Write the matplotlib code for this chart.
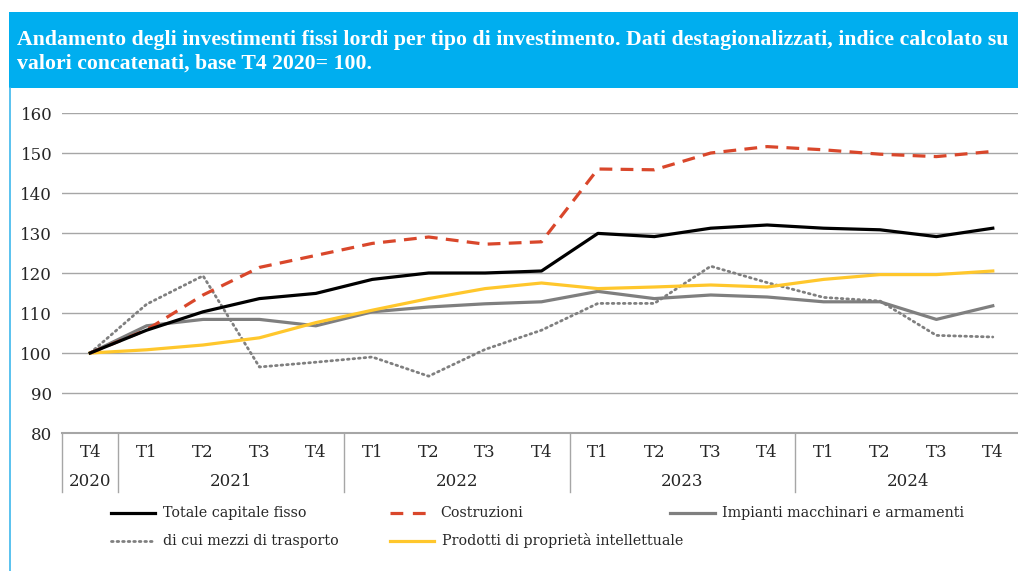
import numpy as np
import matplotlib.pyplot as plt
from matplotlib.lines import Line2D

# Trimestri e anni
trimestri = ['T4', 'T1', 'T2', 'T3', 'T4', 'T1', 'T2', 'T3', 'T4',
             'T1', 'T2', 'T3', 'T4', 'T1', 'T2', 'T3', 'T4']
anni = ['2020', '2021', '2022', '2023', '2024']
anni_n = [1, 4, 4, 4, 4]

# Serie (indice, base T4 2020 = 100)
totale = [100, 105.7, 110.3, 113.6, 114.9, 118.4, 120.0, 120.0, 120.5,
          129.9, 129.1, 131.2, 132.0, 131.2, 130.8, 129.1, 131.2]
costruzioni = [100, 105.8, 114.5, 121.4, 124.4, 127.4, 129.0, 127.2, 127.8,
               146.0, 145.8, 150.0, 151.6, 150.8, 149.7, 149.1, 150.4]
impianti = [100, 106.8, 108.4, 108.4, 106.8, 110.3, 111.5, 112.3, 112.8,
            115.4, 113.6, 114.5, 114.0, 112.8, 112.8, 108.4, 111.8]
mezzi = [100, 112.2, 119.3, 96.5, 97.7, 99.0, 94.2, 100.9, 105.7,
         112.4, 112.4, 121.7, 117.6, 113.9, 113.0, 104.4, 104.0]
prodotti = [100, 100.8, 102.0, 103.8, 107.6, 110.7, 113.6, 116.1, 117.5,
            116.1, 116.5, 117.0, 116.5, 118.4, 119.6, 119.6, 120.5]

plt.rcParams['font.family'] = ['DejaVu Serif']

W, H = 1018, 571
fig = plt.figure(figsize=(W / 100, H / 100), dpi=100)

def fx(px):
    return px / W

def fy(py):
    return 1 - py / H

# Banda del titolo
band = fig.add_axes([fx(9), fy(88), 1 - fx(9), (88 - 12) / H])
band.set_facecolor('#00AEEF')
band.set_xticks([])
band.set_yticks([])
for s in band.spines.values():
    s.set_visible(False)
titolo = ['Andamento degli investimenti fissi lordi per tipo di investimento. '
          'Dati destagionalizzati, indice calcolato su',
          'valori concatenati, base T4 2020= 100.']
for riga, yb in zip(titolo, [45, 69]):
    fig.text(fx(17), fy(yb), riga, color='white', fontsize=15.7, fontweight='bold',
             va='baseline', family='Liberation Serif')

# Bordo sinistro
fig.add_artist(Line2D([fx(9.5), fx(9.5)], [0, fy(88)], color='#3DB8EC', lw=1.2))

# Grafico
x0, x1 = 62, 1021
ax = fig.add_axes([fx(x0), fy(433), (x1 - x0) / W, (433 - 113) / H])
x = np.arange(len(trimestri))
stili = [
    (totale, 'Totale capitale fisso', dict(color='black', lw=2.3, zorder=5)),
    (costruzioni, 'Costruzioni', dict(color='#D9472B', lw=2.3, ls=(0, (4, 2.6)), zorder=4)),
    (impianti, 'Impianti macchinari e armamenti', dict(color='#7F7F7F', lw=2.3, zorder=3)),
    (mezzi, 'di cui mezzi di trasporto',
     dict(color='#7F7F7F', lw=2.0, ls=(0, (0.6, 1.4)), dash_capstyle='round', zorder=2)),
    (prodotti, 'Prodotti di proprietà intellettuale', dict(color='#FFC72C', lw=2.3, zorder=3)),
]
for serie, nome, st in stili:
    ax.plot(x, serie, **st)

ax.set_xlim(-0.5, len(x) - 0.5)
ax.set_ylim(80, 160)
ax.set_yticks(range(80, 161, 10))
ax.grid(axis='y', color='#A6A6A6', lw=1)
ax.set_axisbelow(True)
for s in ['top', 'right', 'left']:
    ax.spines[s].set_visible(False)
ax.spines['bottom'].set_color('#A6A6A6')
ax.spines['bottom'].set_linewidth(1.5)
ax.tick_params(axis='y', length=0, labelsize=12, pad=7, colors='#262626')
ax.set_xticks([])

# Etichette asse categorie su due livelli
tr = ax.get_xaxis_transform()
for i, t in enumerate(trimestri):
    ax.text(i, -0.06, t, transform=tr, ha='center', va='center', fontsize=12, color='#262626')
bordi = np.concatenate([[0], np.cumsum(anni_n)]) - 0.5
for k, a in enumerate(anni):
    ax.text((bordi[k] + bordi[k + 1]) / 2, -0.15, a, transform=tr, ha='center', va='center',
            fontsize=12, color='#262626')
for b in bordi[:-1]:
    ax.plot([b, b], [0, -0.185], transform=tr, color='#A6A6A6', lw=1, clip_on=False)

# Legenda disposta a mano
pos_leg = [(111, 155, 163, 513), (390, 428, 440, 513), (670, 715, 722, 513),
           (111, 155, 163, 541), (390, 434, 442, 541)]
for k, (xa, xb, xt, yy) in enumerate(pos_leg):
    serie, nome, st = stili[k]
    st2 = {kk: v for kk, v in st.items() if kk != 'zorder'}
    if k == 1:
        st2['ls'] = (0, (4, 3))
    fig.add_artist(Line2D([fx(xa), fx(xb)], [fy(yy), fy(yy)], **st2))
    fig.text(fx(xt), fy(yy), nome, fontsize=10.3, va='center', color='#262626')

fig.savefig('out.png', dpi=100)
